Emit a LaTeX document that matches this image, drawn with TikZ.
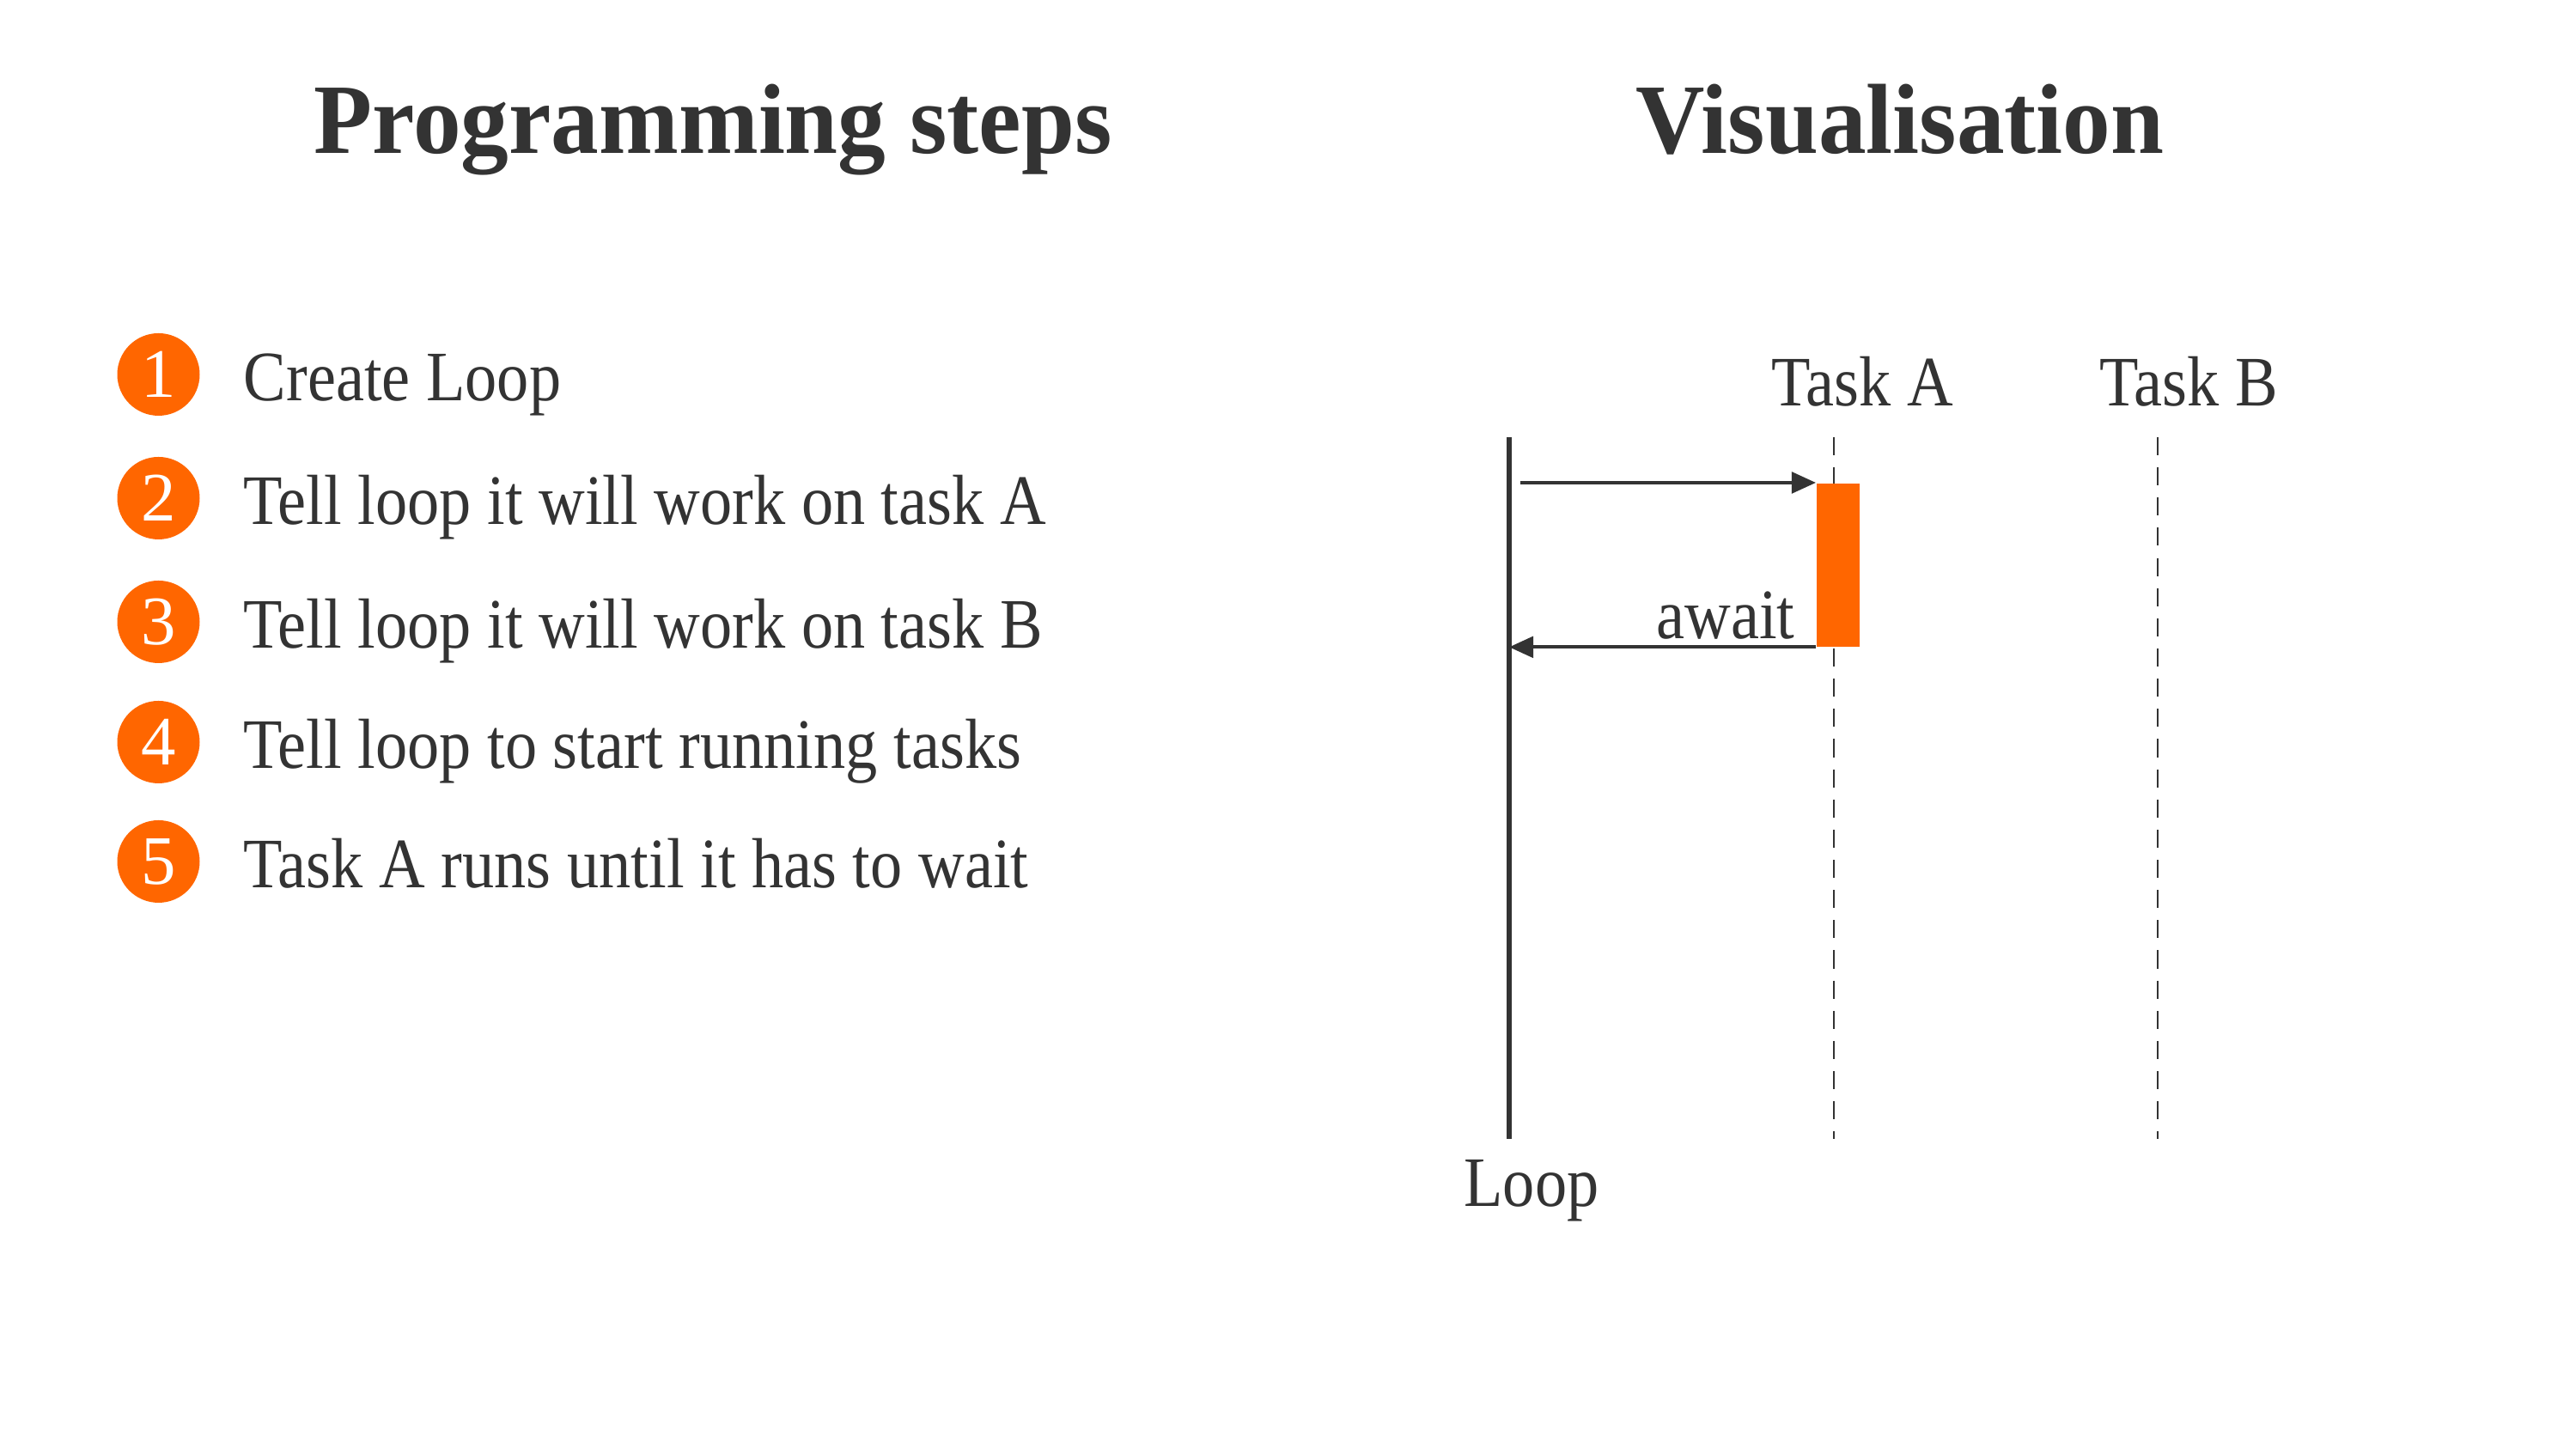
\documentclass[tikz,border=0pt]{standalone}
\usepackage{fontspec}
\setmainfont{Liberation Serif}
\newfontfamily\headfont[FakeStretch=0.96]{Liberation Serif}
\newfontfamily\bodyfont[FakeStretch=0.90]{Liberation Serif}
\usepackage{tikz}
\usetikzlibrary{arrows.meta}

\definecolor{ink}{HTML}{333333}
\definecolor{tangerine}{HTML}{FF6600}

\tikzset{
  heading/.style={anchor=base, text=ink, inner sep=0pt, font=\headfont\fontsize{33}{38}\selectfont\bfseries},
  stepnum/.style={circle, fill=tangerine, text=white, minimum size=0.96cm, inner sep=0pt, font=\fontsize{23}{26}\selectfont},
  steptext/.style={anchor=base west, text=ink, inner sep=0pt, font=\bodyfont\fontsize{23.5}{28}\selectfont},
  lane/.style={anchor=base, text=ink, inner sep=0pt, font=\bodyfont\fontsize{23.5}{28}\selectfont},
  msg/.style={draw=ink, line width=1.1pt, -{Triangle[length=8pt,width=7pt]}}
}

\begin{document}
\begin{tikzpicture}
\useasboundingbox (0,0) rectangle (29.99,16.87);
% headings
\node[heading] (hsteps) at (8.30,15.08) {Programming steps};
\node[heading] (hvis) at (22.12,15.08) {Visualisation};
% steps
\node[stepnum] (n1) at (1.845,12.51) {1};
\node[steptext] (s1) at (2.83,12.20) {Create Loop};
\node[stepnum] (n2) at (1.845,11.07) {2};
\node[steptext] (s2) at (2.83,10.76) {Tell loop it will work on task A};
\node[stepnum] (n3) at (1.845,9.63) {3};
\node[steptext] (s3) at (2.83,9.32) {Tell loop it will work on task B};
\node[stepnum] (n4) at (1.845,8.23) {4};
\node[steptext] (s4) at (2.83,7.92) {Tell loop to start running tasks};
\node[stepnum] (n5) at (1.845,6.84) {5};
\node[steptext] (s5) at (2.83,6.53) {Task A runs until it has to wait};
% lifelines
\node[lane] (ta) at (21.68,12.14) {Task A};
\node[lane] (tb) at (25.48,12.14) {Task B};
\node[lane] (lp) at (17.83,2.82) {Loop};
\coordinate (looptop) at (17.57,11.78);
\coordinate (loopbot) at (17.57,3.61);
\coordinate (atop) at (21.35,11.78);
\coordinate (abot) at (21.35,3.61);
\coordinate (btop) at (25.12,11.78);
\coordinate (bbot) at (25.12,3.61);
\draw[ink, line width=1.6pt] (looptop) -- (loopbot);
\draw[ink, line width=0.5pt, dash pattern=on 6pt off 4pt] (atop) -- (abot);
\draw[ink, line width=0.5pt, dash pattern=on 6pt off 4pt] (btop) -- (bbot);
% task A running
\node[fill=tangerine, minimum width=0.5cm, minimum height=1.9cm, inner sep=0pt, anchor=north west] (bara) at (21.14,11.25) {};
\coordinate (callstart) at (17.70,11.25);
\draw[msg] (callstart) -- (bara.north west);
\draw[msg] (bara.south west) -- (bara.south west -| looptop);
\node[lane, anchor=base east] (aw) at (20.90,9.43) {await};
\end{tikzpicture}
\end{document}
